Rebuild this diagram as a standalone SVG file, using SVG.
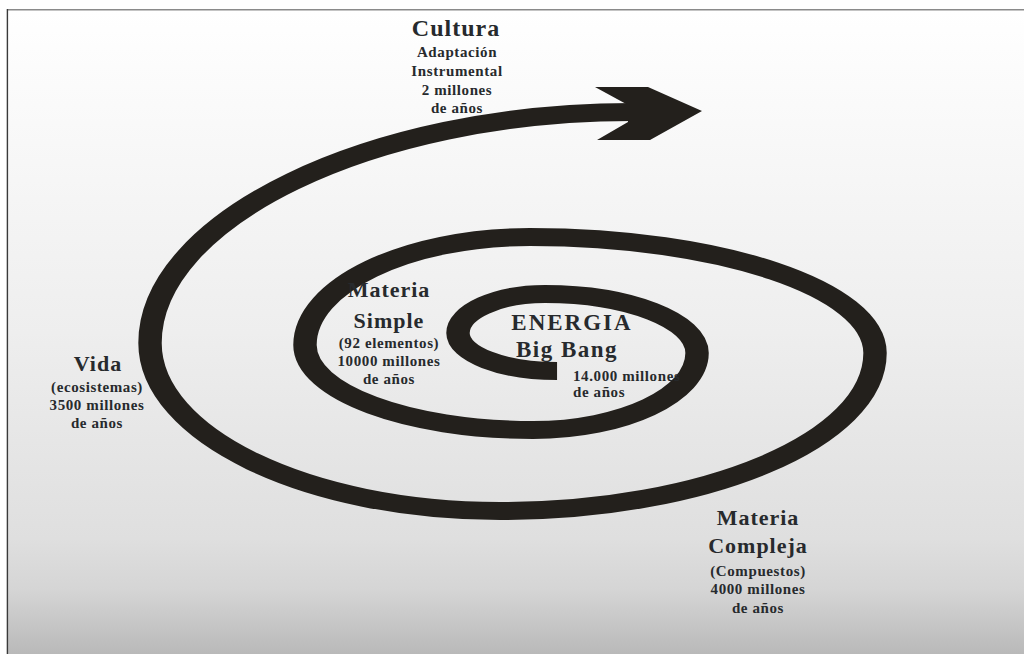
<svg xmlns="http://www.w3.org/2000/svg" width="1024" height="654" viewBox="0 0 1024 654">
  <defs>
    <linearGradient id="bg" gradientUnits="userSpaceOnUse" x1="0" y1="10" x2="0" y2="654">
      <stop offset="0" stop-color="#ffffff"/>
      <stop offset="0.5" stop-color="#eeeeee"/>
      <stop offset="0.82" stop-color="#dfdfdf"/>
      <stop offset="0.9" stop-color="#d5d5d5"/>
      <stop offset="1" stop-color="#b9b9b9"/>
    </linearGradient>
    <style>
      .t { font-family: "Liberation Serif", "DejaVu Serif", serif; font-weight: bold; fill: #272a2d; text-anchor: middle; }
      .big { font-size: 22px; letter-spacing: 1px; }
      .sm { font-size: 15px; letter-spacing: 0.6px; }
      .spiral { fill: none; stroke: #23201c; stroke-width: 18; stroke-linecap: butt; }
    </style>
  </defs>
  <rect x="0" y="0" width="1024" height="654" fill="#ffffff"/>
  <rect x="7" y="10" width="1017" height="644" fill="url(#bg)"/>
  <line x1="7" y1="9.8" x2="1024" y2="9.8" stroke="#8a8a8a" stroke-width="1.6"/>
  <line x1="7.4" y1="9" x2="7.4" y2="654" stroke="#3a3a3a" stroke-width="1.4"/>

  <g id="spiral">
    <g transform="scale(1.3,1)">
      <path class="spiral" d="M428.5,371 C386.2,371 352.3,354 352.3,333 C352.3,312 382.3,294 419.2,294 C483.8,294 536.2,321 536.2,353 C536.2,395 479.2,430 410,430 C313.8,430 234.6,392 234.6,345 C234.6,286 312.3,237 407.7,237 C553.8,237 673.1,289 673.1,353 C673.1,440 543.1,511 384.6,511 C236.2,511 115.4,435 115.4,343 C115.4,220 284.6,112 486.2,112"/>
    </g>
    <polygon points="595,87 648,87 702,111 650,140 597,140 628,122 628,105" fill="#23201c"/>
  </g>

  <g id="cultura">
    <text class="t" x="456" y="36" style="font-size:24px;letter-spacing:1px">Cultura</text>
    <text class="t sm" x="457" y="57">Adaptación</text>
    <text class="t sm" x="457" y="76">Instrumental</text>
    <text class="t sm" x="457" y="95">2 millones</text>
    <text class="t sm" x="457" y="113">de años</text>
  </g>
  <g id="vida">
    <text class="t big" x="98" y="371">Vida</text>
    <text class="t sm" x="97" y="392">(ecosistemas)</text>
    <text class="t sm" x="97" y="410">3500 millones</text>
    <text class="t sm" x="97" y="428">de años</text>
  </g>
  <g id="materia-simple">
    <text class="t big" x="389" y="297">Materia</text>
    <text class="t big" x="389" y="328">Simple</text>
    <text class="t sm" x="389" y="348">(92 elementos)</text>
    <text class="t sm" x="389" y="366">10000 millones</text>
    <text class="t sm" x="389" y="384">de años</text>
  </g>
  <g id="energia">
    <text class="t" x="572" y="330" style="font-size:23px;letter-spacing:2px">ENERGIA</text>
    <text class="t" x="567" y="357" style="font-size:23px;letter-spacing:1.5px">Big Bang</text>
    <text class="t sm" x="573" y="381" style="text-anchor:start">14.000 millones</text>
    <text class="t sm" x="573" y="397" style="text-anchor:start">de años</text>
  </g>
  <g id="materia-compleja">
    <text class="t big" x="758" y="525">Materia</text>
    <text class="t big" x="758" y="553">Compleja</text>
    <text class="t sm" x="758" y="576">(Compuestos)</text>
    <text class="t sm" x="758" y="594">4000 millones</text>
    <text class="t sm" x="758" y="613">de años</text>
  </g>
</svg>
